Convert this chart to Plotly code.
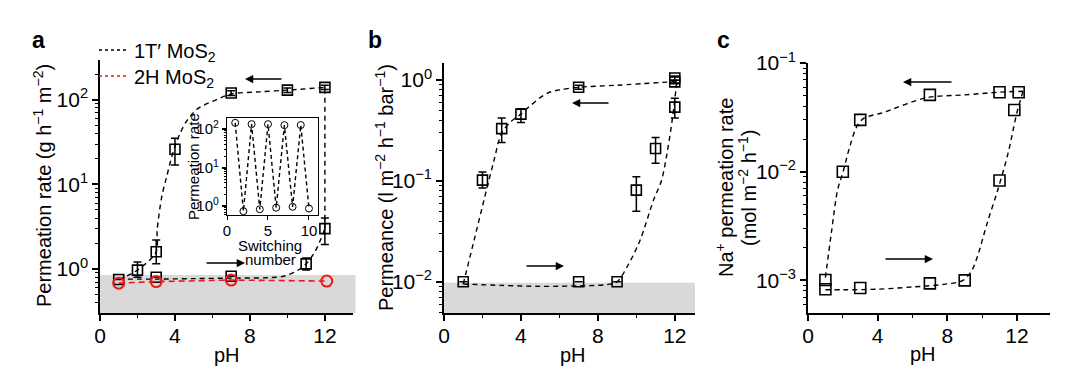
import math
import plotly.graph_objects as go

W, H = 1080, 373
FONT = "Liberation Sans, Arial, Helvetica, sans-serif"

# ---------------- data: panel a ----------------
a_ph = [1, 2, 3, 3, 4, 7, 7, 10, 11, 12, 12]
a_rate = [0.75, 0.97, 1.6, 0.8, 26, 120, 0.82, 130, 1.15, 140, 3.0]
a_err_up = [0.0, 0.24, 0.6, 0.0, 9, 8, 0.0, 8, 0.2, 8, 1.0]
a_err_dn = [0.0, 0.17, 0.45, 0.0, 9, 8, 0.0, 8, 0.18, 8, 1.05]
a_rev_ph = [1, 2, 3, 3.05, 3.3, 3.56, 3.9, 4.27, 4.65, 5.2, 6.2, 7, 8.5, 10, 12]
a_rev_rate = [0.75, 0.97, 1.6, 2.9, 7.2, 12.4, 24, 40, 57, 78, 100, 117, 124, 130, 140]
a_fwd_ph = [1, 3, 5, 7, 9, 9.8, 10.5, 11, 11.5, 11.8, 12]
a_fwd_rate = [0.76, 0.76, 0.77, 0.78, 0.79, 0.82, 0.95, 1.15, 1.65, 2.3, 3.0]
a_jump_ph = [12, 12]
a_jump_rate = [3.0, 140]
h2_ph = [1, 3, 7, 12.1]
h2_rate = [0.68, 0.71, 0.74, 0.72]
a_limit = 0.85

# inset
sw_num = [1, 2, 3, 4, 5, 6, 7, 8, 9, 10]
sw_rate = [146, 0.74, 135, 0.83, 135, 0.91, 127, 0.96, 128, 0.87]

# ---------------- data: panel b ----------------
b_ph = [1, 2, 3, 4, 7, 7, 9, 10, 11, 12, 12, 12]
b_perm = [0.01, 0.102, 0.33, 0.46, 0.85, 0.01, 0.01, 0.081, 0.21, 0.54, 0.96, 1.05]
b_err_up = [0, 0.021, 0.09, 0.06, 0.04, 0, 0, 0.029, 0.06, 0.12, 0.04, 0.05]
b_err_dn = [0, 0.017, 0.09, 0.08, 0.04, 0, 0, 0.031, 0.06, 0.12, 0.04, 0.05]
b_rev_ph = [1, 1.5, 2.2, 2.6, 3.0, 3.5, 4, 4.5, 5.35, 6, 7, 9, 12.1]
b_rev_perm = [0.0095, 0.023, 0.08, 0.16, 0.30, 0.39, 0.46, 0.56, 0.74, 0.80, 0.85, 0.89, 0.97]
b_fwd_ph = [1, 3, 5, 7, 8.5, 9, 9.6, 10.2, 10.9, 11.3, 11.6, 11.9, 12.1]
b_fwd_perm = [0.0095, 0.0092, 0.009, 0.0091, 0.0094, 0.01, 0.015, 0.026, 0.065, 0.1, 0.19, 0.45, 0.96]
b_limit = 0.0098

# ---------------- data: panel c ----------------
c_ph = [1, 1, 2, 3, 3, 7, 7, 9, 11, 11, 12.1, 11.85]
c_rate = [0.00101, 0.00083, 0.01, 0.030, 0.00085, 0.051, 0.00094, 0.00100, 0.054, 0.0083, 0.054, 0.037]
c_rev_ph = [1, 1.35, 1.7, 2.0, 2.4, 2.8, 3.2, 4.3, 6.8, 9, 11, 12.35]
c_rev_rate = [0.00106, 0.0028, 0.0068, 0.0098, 0.017, 0.026, 0.031, 0.035, 0.048, 0.051, 0.054, 0.055]
c_fwd_ph = [1, 2, 4, 6, 7.8, 8.9, 9.4, 9.7, 10.3, 10.9, 11.5, 11.8, 12.0, 12.35]
c_fwd_rate = [0.00082, 0.00082, 0.00083, 0.00087, 0.00092, 0.001, 0.00123, 0.0016, 0.0034, 0.0068,
              0.015, 0.025, 0.035, 0.055]

# axis ranges (log10 for log axes)
A_YR = [-0.52, 2.47]
B_YR = [-2.31, 0.17]
C_YR = [-3.30, -0.999]


def fx(p):
    return p / W


def fy(p):
    return 1 - p / H


DASH = "5px,4px"
RED = "#f01818"
fig = go.Figure()


def curve(x, y, xa, ya, color="black", shape="spline"):
    line = dict(color=color, width=1.4, dash=DASH, shape=shape)
    if shape == "spline":
        line["smoothing"] = 0.9
    fig.add_trace(go.Scatter(x=x, y=y, xaxis=xa, yaxis=ya, mode="lines", showlegend=False,
                             line=line, hoverinfo="skip"))


def squares(x, y, xa, ya, up=None, dn=None, size=10):
    kw = {}
    if up is not None:
        kw["error_y"] = dict(type="data", array=up, arrayminus=dn, color="black",
                             thickness=1.5, width=4, visible=True)
    fig.add_trace(go.Scatter(x=x, y=y, xaxis=xa, yaxis=ya, mode="markers", showlegend=False,
                             marker=dict(symbol="square-open", size=size, color="black",
                                         line=dict(color="black", width=1.6)), **kw))


# panel a
curve(a_rev_ph, a_rev_rate, "x", "y")
curve(a_fwd_ph, a_fwd_rate, "x", "y")
curve(a_jump_ph, a_jump_rate, "x", "y", shape="linear")
squares(a_ph, a_rate, "x", "y", a_err_up, a_err_dn)
fig.add_trace(go.Scatter(x=h2_ph, y=h2_rate, xaxis="x", yaxis="y", mode="lines+markers",
                         showlegend=False,
                         line=dict(color=RED, width=1.6, dash="6px,4px"),
                         marker=dict(symbol="circle-open", size=11, color=RED,
                                     line=dict(color=RED, width=2))))
# legend entries (two separate legends for tight spacing)
fig.add_trace(go.Scatter(x=[None], y=[None], xaxis="x", yaxis="y", mode="lines",
                         name="1T′ MoS<sub>2</sub>", legend="legend",
                         line=dict(color="black", width=1.4, dash="3px,3px")))
fig.add_trace(go.Scatter(x=[None], y=[None], xaxis="x", yaxis="y", mode="lines",
                         name="2H MoS<sub>2</sub>", legend="legend2",
                         line=dict(color=RED, width=1.6, dash="3px,3px")))

# inset
fig.add_trace(go.Scatter(x=sw_num, y=sw_rate, xaxis="x4", yaxis="y4", mode="lines+markers",
                         showlegend=False,
                         line=dict(color="black", width=1.4, dash="4px,3px"),
                         marker=dict(symbol="circle-open", size=7, color="black",
                                     line=dict(color="black", width=1))))

# panel b
curve(b_rev_ph, b_rev_perm, "x2", "y2")
curve(b_fwd_ph, b_fwd_perm, "x2", "y2")
squares(b_ph, b_perm, "x2", "y2", b_err_up, b_err_dn)

# panel c
curve(c_rev_ph, c_rev_rate, "x3", "y3")
curve(c_fwd_ph, c_fwd_rate, "x3", "y3")
squares(c_ph, c_rate, "x3", "y3", size=11)


def sup(n):
    return "10<sup>%s</sup>" % (("−%d" % -n) if n < 0 else "%d" % n)


def minors(lo, hi):
    vals = []
    for e in range(lo, hi + 1):
        for m in range(2, 10):
            vals.append(m * 10 ** e)
    return vals


def xaxis(dom, rng, anchor, dtick=4, minor_dt=2, size=21, standoff=-3):
    d = dict(domain=dom, range=rng, anchor=anchor, showline=True, linecolor="black",
             linewidth=1.5, ticks="outside", ticklen=6, tickwidth=1.5, tickcolor="black",
             tickmode="linear", tick0=0, dtick=dtick, showgrid=False, zeroline=False,
             ticklabelstandoff=standoff,
             tickfont=dict(size=size, color="black", family=FONT))
    if minor_dt:
        d["minor"] = dict(ticks="outside", ticklen=3.5, tickwidth=1.2, tickcolor="black",
                          dtick=minor_dt, tick0=0, showgrid=False)
    return d


def yaxis(dom, rng, exps, anchor, size=21, ticklen=6):
    return dict(domain=dom, range=rng, type="log", anchor=anchor, showline=True,
                linecolor="black", linewidth=1.5, ticks="outside", ticklen=ticklen,
                tickwidth=1.5, tickcolor="black", showgrid=False, zeroline=False,
                tickmode="array", tickvals=[10 ** e for e in exps],
                ticktext=[sup(e) for e in exps],
                tickfont=dict(size=size, color="black", family=FONT),
                minor=dict(tickmode="array", tickvals=minors(min(exps) - 1, max(exps) + 1),
                           ticks="outside", ticklen=ticklen * 0.55, tickwidth=1.1,
                           tickcolor="black", showgrid=False))


ybot = fy(313)
legend_common = dict(xanchor="left", yanchor="middle", bgcolor="rgba(0,0,0,0)",
                     font=dict(size=20, family=FONT, color="black"), itemwidth=30,
                     tracegroupgap=0)
fig.update_layout(
    width=W, height=H, margin=dict(l=0, r=0, t=0, b=0, pad=0, autoexpand=False),
    paper_bgcolor="white", plot_bgcolor="rgba(0,0,0,0)",
    font=dict(family=FONT, color="black", size=20),
    xaxis=xaxis([fx(100), fx(353)], [0, 13.5], "y"),
    yaxis=yaxis([ybot, fy(60)], A_YR, [0, 1, 2], "x"),
    xaxis2=xaxis([fx(444), fx(695)], [0, 13.05], "y2"),
    yaxis2=yaxis([ybot, fy(63)], B_YR, [-2, -1, 0], "x2"),
    xaxis3=xaxis([fx(808), fx(1050)], [0, 13.9], "y3"),
    yaxis3=yaxis([ybot, fy(63)], C_YR, [-3, -2, -1], "x3"),
    xaxis4=dict(xaxis([fx(227), fx(318)], [0, 11.1], "y4", dtick=5, minor_dt=None, size=15,
                      standoff=-2),
                mirror=True, ticklen=4, tickwidth=1.2, linewidth=1.3),
    yaxis4=dict(yaxis([fy(215), fy(118)], [-0.23, 2.29], [0, 1, 2], "x4", size=15, ticklen=4),
                mirror=True, linewidth=1.3),
    legend=dict(legend_common, x=fx(94), y=fy(50)),
    legend2=dict(legend_common, x=fx(94), y=fy(76)),
    showlegend=True,
)


def band_top(limit, rng):
    return (math.log10(limit) - rng[0]) / (rng[1] - rng[0])


# detection-limit bands
fig.add_shape(type="rect", xref="x domain", yref="y domain", x0=0, x1=1.01, y0=0,
              y1=band_top(a_limit, A_YR), fillcolor="#d9d9d9", line=dict(width=0), layer="below")
fig.add_shape(type="rect", xref="x2 domain", yref="y2 domain", x0=0, x1=1, y0=0,
              y1=band_top(b_limit, B_YR), fillcolor="#d9d9d9", line=dict(width=0), layer="below")

ann = []


def text(px, py, s, size=20, angle=0, bold=False, xanchor="center"):
    ann.append(dict(x=fx(px), y=fy(py), xref="paper", yref="paper",
                    text=("<b>%s</b>" % s) if bold else s,
                    showarrow=False, textangle=angle, xanchor=xanchor, yanchor="middle",
                    font=dict(size=size, family=FONT, color="black")))


def arrow(head_x, tail_x, py):
    ann.append(dict(x=fx(head_x), y=fy(py), xref="paper", yref="paper", text="",
                    showarrow=True, ax=tail_x - head_x, ay=0, arrowhead=2, arrowsize=1.1,
                    arrowwidth=1.5, arrowcolor="black"))


text(39, 40, "a", size=23, bold=True)
text(375, 40, "b", size=23, bold=True)
text(723, 40, "c", size=23, bold=True)
text(42, 186, "Permeation rate (g h<sup>−1</sup> m<sup>−2</sup>)", angle=-90)
text(384, 188, "Permeance (l m<sup>−2</sup> h<sup>−1</sup> bar<sup>−1</sup>)", angle=-90)
text(724, 188, "Na<sup>+</sup> permeation rate", angle=-90)
text(747, 188, "(mol m<sup>−2</sup> h<sup>−1</sup>)", angle=-90)
text(227, 355, "pH")
text(573, 355, "pH")
text(923, 354, "pH")
text(193, 167, "Permeation rate", size=15, angle=-90)
text(270, 245, "Switching", size=15)
text(270, 259, "number", size=15)
arrow(245, 283, 79)
arrow(245, 205, 263)
arrow(572, 610, 103)
arrow(564, 525, 266)
arrow(903, 953, 82)
arrow(933, 884, 259)
fig.update_layout(annotations=ann)

fig.write_html("out.html", config={"displayModeBar": False},
               post_script="document.body.style.margin='0';document.body.style.overflow='hidden';")
